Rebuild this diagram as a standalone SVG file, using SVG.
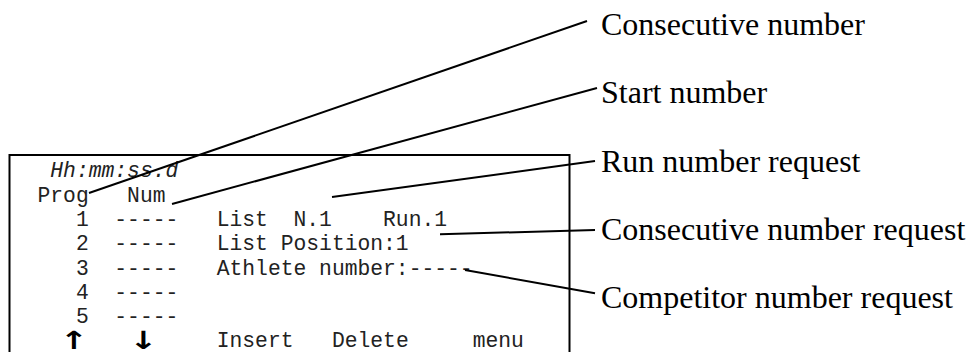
<svg xmlns="http://www.w3.org/2000/svg" width="970" height="352" viewBox="0 0 970 352">
<style>
.mono{font-family:"Liberation Mono","Courier New",monospace;font-size:21.33px;fill:#222;white-space:pre}
.it{font-style:italic}
.lbl{font-family:"Liberation Serif","Times New Roman",serif;font-size:32px;fill:#000}
.arr{font-family:"DejaVu Sans",sans-serif;font-weight:bold;font-size:25px;fill:#000;text-anchor:middle}
.ln{stroke:#000;stroke-width:2;fill:none}
</style>
<rect width="970" height="352" fill="#fff"/>
<g id="screen">
<rect x="9.5" y="155" width="560" height="260" fill="none" stroke="#000" stroke-width="2"/>
<text class="mono it" x="37.5" y="177" xml:space="preserve"> Hh:mm:ss.d</text>
<text class="mono" x="37.5" y="201.5" xml:space="preserve">Prog   Num</text>
<text class="mono" x="37.5" y="226" xml:space="preserve">   1  -----   List  N.1    Run.1</text>
<text class="mono" x="37.5" y="250.3" xml:space="preserve">   2  -----   List Position:1</text>
<text class="mono" x="37.5" y="274.6" xml:space="preserve">   3  -----   Athlete number:-----</text>
<text class="mono" x="37.5" y="299" xml:space="preserve">   4  -----</text>
<text class="mono" x="37.5" y="323.3" xml:space="preserve">   5  -----</text>
<text class="arr" transform="translate(74,349) scale(1.35,1)">↑</text>
<text class="arr" transform="translate(143.3,349) scale(1.35,1)">↓</text>
<text class="mono" x="216.7" y="347">Insert</text>
<text class="mono" x="331.9" y="347">Delete</text>
<text class="mono" x="472.7" y="347">menu</text>
</g>
<g id="connectors">
<line class="ln" x1="89" y1="193" x2="587" y2="21"/>
<line class="ln" x1="172" y1="204" x2="597" y2="88"/>
<line class="ln" x1="332" y1="197" x2="595" y2="161"/>
<line class="ln" x1="440" y1="234.3" x2="595" y2="230"/>
<line class="ln" x1="465" y1="270" x2="595" y2="293.3"/>
</g>
<g id="label-consecutive-number"><text class="lbl" x="601" y="35">Consecutive number</text></g>
<g id="label-start-number"><text class="lbl" x="601" y="103.3">Start number</text></g>
<g id="label-run-number-request"><text class="lbl" x="601" y="171.6">Run number request</text></g>
<g id="label-consecutive-number-request"><text class="lbl" x="601" y="240">Consecutive number request</text></g>
<g id="label-competitor-number-request"><text class="lbl" x="601" y="308.3">Competitor number request</text></g>
</svg>
